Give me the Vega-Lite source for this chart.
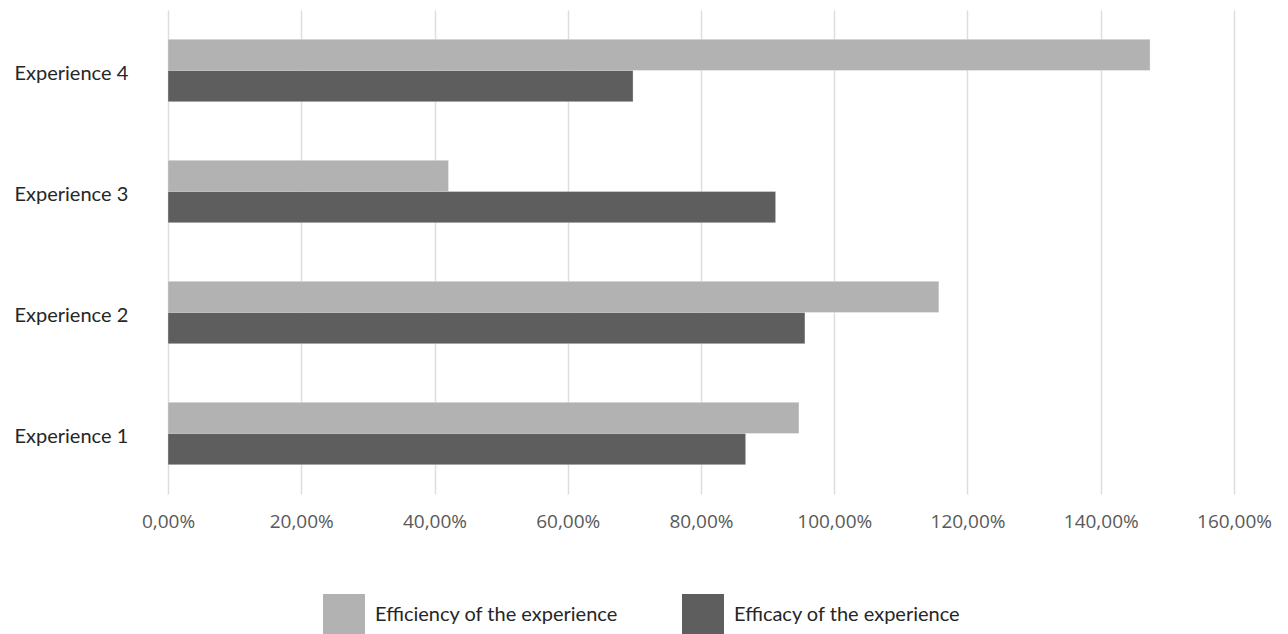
{
  "$schema": "https://vega.github.io/schema/vega-lite/v6.json",
  "width": 1066,
  "height": 484,
  "autosize": {"type": "none"},
  "padding": {"left": 168, "top": 10, "right": 54, "bottom": 140},
  "background": "white",
  "data": {
    "values": [
      {"experience": "Experience 1", "measure": "Efficiency of the experience", "value": 0.947},
      {"experience": "Experience 1", "measure": "Efficacy of the experience", "value": 0.867},
      {"experience": "Experience 2", "measure": "Efficiency of the experience", "value": 1.157},
      {"experience": "Experience 2", "measure": "Efficacy of the experience", "value": 0.956},
      {"experience": "Experience 3", "measure": "Efficiency of the experience", "value": 0.421},
      {"experience": "Experience 3", "measure": "Efficacy of the experience", "value": 0.912},
      {"experience": "Experience 4", "measure": "Efficiency of the experience", "value": 1.474},
      {"experience": "Experience 4", "measure": "Efficacy of the experience", "value": 0.698}
    ]
  },
  "mark": {"type": "bar", "stroke": "#ffffff", "strokeOpacity": 0.3, "strokeWidth": 1},
  "encoding": {
    "y": {
      "field": "experience",
      "type": "nominal",
      "sort": "descending",
      "scale": {"paddingInner": 0.485, "paddingOuter": 0.2425},
      "axis": {
        "title": null,
        "ticks": false,
        "tickSize": 0,
        "domain": false,
        "grid": false,
        "labelAlign": "left",
        "labelBaseline": "middle",
        "labelPadding": 154,
        "labelOffset": 3,
        "labelFont": "Lato",
        "labelFontSize": 20,
        "labelColor": "#262626"
      }
    },
    "yOffset": {
      "field": "measure",
      "type": "nominal",
      "sort": ["Efficiency of the experience", "Efficacy of the experience"]
    },
    "x": {
      "field": "value",
      "type": "quantitative",
      "scale": {"domain": [0, 1.6], "nice": false},
      "axis": {
        "title": null,
        "values": [0, 0.2, 0.4, 0.6, 0.8, 1.0, 1.2, 1.4, 1.6],
        "labelExpr": "replace(format(datum.value, '.2%'), '.', ',')",
        "domain": false,
        "ticks": false,
        "tickSize": 0,
        "labelPadding": 18,
        "labelFlush": false,
        "labelFont": "Open Sans",
        "labelFontSize": 19,
        "labelColor": "#595959",
        "gridColor": "#dedede",
        "gridWidth": 1.5
      }
    },
    "color": {
      "field": "measure",
      "type": "nominal",
      "scale": {
        "domain": ["Efficiency of the experience", "Efficacy of the experience"],
        "range": ["#b2b2b2", "#5e5e5e"]
      },
      "legend": {
        "title": null,
        "orient": "none",
        "direction": "horizontal",
        "legendX": 155,
        "legendY": 584,
        "padding": 0,
        "columnPadding": 63,
        "symbolType": "square",
        "symbolSize": 1764,
        "symbolStrokeWidth": 0,
        "symbolOpacity": 1,
        "labelOffset": 10,
        "labelFont": "Lato",
        "labelFontSize": 20,
        "labelColor": "#262626",
        "labelLimit": 400
      }
    }
  },
  "config": {"view": {"stroke": null}}
}
